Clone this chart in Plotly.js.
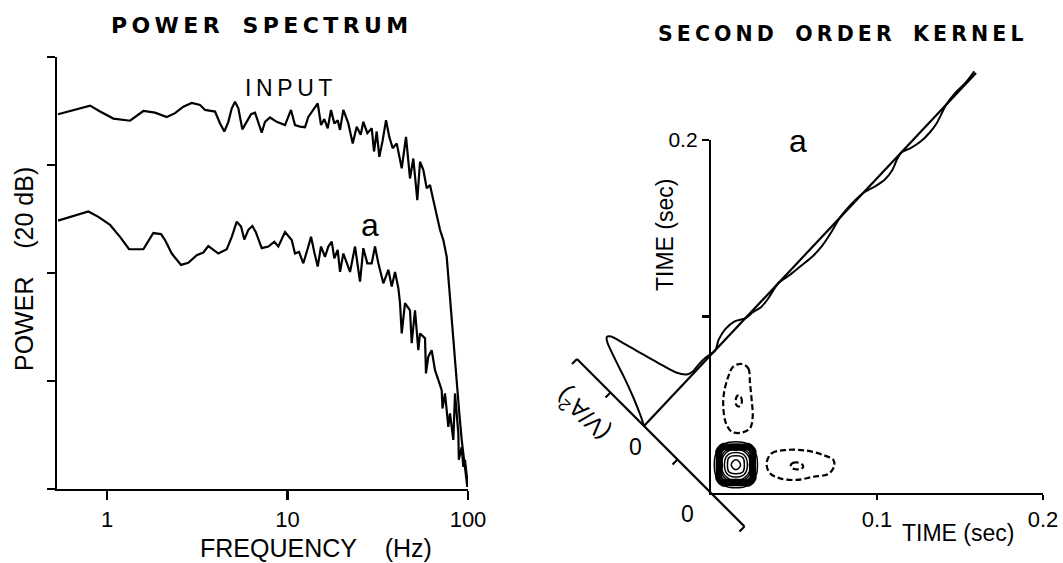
<!DOCTYPE html>
<html><head><meta charset="utf-8">
<script src="https://cdn.plot.ly/plotly-3.0.1.min.js"></script>
<style>html,body{margin:0;padding:0;background:#fff}#chart{width:1063px;height:563px}</style>
</head><body><div id="chart"></div>
<script>
// ---------- LEFT PANEL: power spectrum ----------
const freqTickVals = [1, 10, 100];
const freqTickText = ['1', '10', '100'];
const powerTickVals = [0, 20, 40, 60, 80];   // 20 dB per division

const inputFreq = [0.535, 0.665, 0.805, 0.915, 1.084, 1.341, 1.589, 1.845, 2.142, 2.381, 2.647, 2.946, 3.275, 3.491, 3.966, 4.227, 4.466, 4.699, 4.909, 5.119, 5.339, 5.619, 5.943, 6.28, 6.604, 6.888, 7.194, 7.503, 7.998, 8.713, 9.685, 10.45, 11.0, 11.73, 12.5, 13.04, 13.9, 14.7, 15.33, 15.99, 16.7, 17.42, 18.17, 18.97, 19.54, 20.38, 21.72, 22.97, 24.17, 25.44, 26.3, 27.68, 29.28, 30.15, 31.2, 32.26, 33.69, 35.14, 36.64, 38.26, 40.27, 42.93, 45.35, 47.72, 49.77, 52.37, 54.21, 56.54, 59.04, 61.58, 64.23, 67.6, 69.97, 73.0, 76.22, 77.8, 78.79, 81.24, 83.66, 86.59, 89.51, 92.29, 96.25, 99.1];
const inputPower = [69.4, 70.2, 71.0, 69.9, 68.6, 68.2, 70.0, 69.7, 68.9, 69.6, 70.8, 71.5, 71.1, 70.2, 69.9, 67.7, 66.2, 68.0, 70.5, 71.7, 70.5, 66.6, 68.0, 69.4, 69.7, 68.0, 66.0, 68.0, 68.8, 68.0, 67.4, 70.2, 67.4, 67.1, 67.0, 68.9, 70.2, 71.4, 67.4, 68.5, 66.8, 70.2, 67.7, 68.3, 66.5, 70.2, 67.7, 64.0, 67.1, 65.6, 68.0, 65.9, 66.8, 62.5, 66.2, 61.5, 64.6, 68.3, 65.2, 63.1, 64.0, 59.4, 65.2, 57.5, 61.2, 53.5, 60.6, 59.1, 55.7, 56.3, 53.5, 50.4, 48.0, 46.1, 43.0, 39.3, 36.9, 32.5, 26.4, 20.2, 14.0, 9.1, 4.1, 0.4];

const aFreq = [0.535, 0.665, 0.788, 0.895, 1.039, 1.18, 1.324, 1.589, 1.693, 1.805, 1.992, 2.096, 2.283, 2.57, 2.821, 3.14, 3.416, 3.64, 4.137, 4.605, 4.909, 5.232, 5.526, 5.763, 6.066, 6.383, 6.666, 7.194, 7.83, 8.452, 8.892, 9.685, 10.55, 11.0, 11.58, 12.23, 13.04, 13.5, 14.08, 14.7, 15.33, 16.13, 16.83, 17.58, 18.17, 18.97, 19.54, 20.38, 22.2, 23.66, 25.22, 26.3, 27.68, 29.28, 30.53, 31.86, 33.95, 36.19, 37.79, 39.42, 41.12, 42.02, 42.93, 44.77, 47.72, 48.76, 50.86, 53.06, 54.21, 57.8, 58.5, 60.26, 62.93, 65.64, 68.47, 71.49, 72.2, 74.58, 77.8, 79.5, 82.92, 84.72, 88.4, 88.96, 92.29, 94.19, 96.25, 98.35, 100];
const aPower = [49.7, 50.6, 51.4, 50.4, 48.9, 46.7, 44.4, 44.4, 45.8, 47.4, 47.2, 46.1, 43.6, 41.5, 41.9, 43.3, 43.8, 45.0, 43.6, 44.4, 46.7, 49.5, 48.6, 46.2, 48.0, 48.7, 47.6, 44.6, 44.9, 45.8, 44.9, 47.6, 46.1, 43.6, 43.9, 41.8, 44.9, 46.7, 43.8, 41.2, 44.9, 43.0, 44.9, 45.8, 42.7, 44.3, 40.2, 43.6, 40.2, 44.9, 38.4, 44.6, 41.8, 41.8, 44.9, 41.8, 38.1, 40.6, 37.5, 40.2, 37.2, 34.4, 28.8, 34.4, 33.1, 27.0, 33.1, 25.7, 28.8, 27.9, 21.4, 24.5, 25.7, 22.0, 20.2, 18.3, 14.9, 17.7, 11.5, 14.0, 9.1, 17.7, 10.3, 5.4, 7.8, 4.1, 5.4, 1.7, 0.4];

// ---------- RIGHT PANEL: second order kernel ----------
const timeTickVals = [0.1, 0.2];
const timeTickTextX = ['0.1', '0.2'];
const timeTickTextY = ['', '0.2'];

// diagonal cut of the kernel, K(t,t), in units along the oblique (V/A^2) axis
const diagTime = [0, 0.002, 0.005, 0.008, 0.0105, 0.0125, 0.014, 0.0152, 0.0165, 0.018, 0.020, 0.0225, 0.025, 0.0275, 0.030, 0.034, 0.038, 0.043, 0.047, 0.052, 0.057, 0.061, 0.065, 0.069, 0.073, 0.077, 0.081, 0.087, 0.093, 0.099, 0.105, 0.111, 0.118, 0.125, 0.132, 0.137, 0.142, 0.147, 0.152, 0.155, 0.159, 0.164, 0.169, 0.174, 0.178, 0.182, 0.188, 0.194, 0.200];
const diagAmp = [0, 0.2, 0.55, 0.95, 1.33, 1.62, 1.80, 1.86, 1.80, 1.55, 1.17, 0.70, 0.28, 0.09, 0.04, 0.05, 0.04, 0.0, 0.10, 0.15, 0.12, 0.0, -0.03, -0.08, -0.07, -0.03, 0.0, -0.06, -0.10, -0.14, -0.13, -0.08, 0.0, 0.02, 0.0, -0.08, -0.14, -0.12, -0.03, 0.0, -0.08, -0.14, -0.15, -0.12, -0.06, 0.0, 0.03, 0.02, 0.05];
const ampTickVals = [-3, -2, -1, 0, 1, 2];   // oblique amplitude axis; origin of time plane sits at -2

// positive peak (solid contours): kernel values on a grid
const peakT1 = [-0.001, 0.003, 0.007, 0.011, 0.015, 0.019, 0.023, 0.027, 0.031];
const peakT2 = [0.000, 0.004, 0.008, 0.012, 0.016, 0.020, 0.024, 0.028, 0.032];
const peakZ = [
  [0, 0,   0,   0,   0,   0,   0,   0,   0],
  [0, 0.3, 0.8, 1.1, 1.2, 1.1, 0.8, 0.3, 0],
  [0, 0.8, 5.8, 7.2, 7.5, 7.2, 5.8, 0.8, 0],
  [0, 1.1, 7.2, 8.7, 9.0, 8.7, 7.2, 1.1, 0],
  [0, 1.2, 7.5, 9.0, 10,  9.0, 7.5, 1.2, 0],
  [0, 1.1, 7.2, 8.7, 9.0, 8.7, 7.2, 1.1, 0],
  [0, 0.8, 5.8, 7.2, 7.5, 7.2, 5.8, 0.8, 0],
  [0, 0.3, 0.8, 1.1, 1.2, 1.1, 0.8, 0.3, 0],
  [0, 0,   0,   0,   0,   0,   0,   0,   0]
];
const peakLevels = {start: 0.9, end: 9.3, size: 0.7};

// negative lobes (dashed contours), traced in (t1, t2) seconds
const lobeVOuterT1 = [0.0185, 0.0225, 0.0235, 0.0245, 0.0251, 0.0235, 0.0185, 0.0125, 0.0090, 0.0074, 0.0078, 0.0104, 0.0134, 0.0185];
const lobeVOuterT2 = [0.0731, 0.0706, 0.0621, 0.0527, 0.0432, 0.0367, 0.0342, 0.0347, 0.0395, 0.0489, 0.0565, 0.0659, 0.0716, 0.0731];
const lobeVInnerT1 = [0.0167, 0.0182, 0.0186, 0.0180, 0.0165, 0.0152, 0.0149, 0.0154, 0.0167];
const lobeVInnerT2 = [0.0555, 0.0540, 0.0520, 0.0498, 0.0490, 0.0500, 0.0522, 0.0545, 0.0555];
const lobeHOuterT1 = [0.0335, 0.0365, 0.0456, 0.0576, 0.0677, 0.0737, 0.0741, 0.0707, 0.0616, 0.0516, 0.0416, 0.0355, 0.0335];
const lobeHOuterT2 = [0.0168, 0.0225, 0.0244, 0.0240, 0.0215, 0.0187, 0.0149, 0.0108, 0.0092, 0.0074, 0.0083, 0.0112, 0.0168];
const lobeHInnerT1 = [0.0480, 0.0492, 0.0518, 0.0545, 0.0556, 0.0540, 0.0515, 0.0490, 0.0480];
const lobeHInnerT2 = [0.0155, 0.0170, 0.0173, 0.0165, 0.0150, 0.0136, 0.0134, 0.0140, 0.0155];

// ---------- layout geometry ----------
const W = 1063, H = 563;
const fx = v => v / W, fy = v => 1 - v / H;
const PXT1 = 1660, PXT2 = 1765;           // pixels per second on the time axes
const ORG = [711, 493];                    // pixel position of time origin
// oblique (V/A^2) axis direction per amplitude unit, expressed in seconds
const OX = -33.5 / PXT1, OY = 33.5 / PXT2;
const SX = -5 / PXT1, SY = -5 / PXT2;      // tick stub on oblique axis
const AMP_AT_ORIGIN = -2;
function proj(t1, t2, A) {
  const w = A - AMP_AT_ORIGIN;
  return [t1 + w * OX, t2 + w * OY];
}

const BLK = '#000';
const traces = [];
traces.push({x: inputFreq, y: inputPower, type: 'scatter', mode: 'lines',
  line: {color: BLK, width: 2.2}, xaxis: 'x', yaxis: 'y', hoverinfo: 'skip'});
traces.push({x: aFreq, y: aPower, type: 'scatter', mode: 'lines',
  line: {color: BLK, width: 2.2}, xaxis: 'x', yaxis: 'y', hoverinfo: 'skip'});

// positive peak contours
traces.push({type: 'contour', x: peakT1, y: peakT2, z: peakZ, xaxis: 'x2', yaxis: 'y2',
  autocontour: false, contours: {coloring: 'lines', start: peakLevels.start, end: peakLevels.end, size: peakLevels.size, showlabels: false},
  line: {width: 1.5, smoothing: 1.3}, colorscale: [[0, BLK], [1, BLK]], showscale: false, hoverinfo: 'skip'});
// negative dashed lobes
[[lobeVOuterT1, lobeVOuterT2], [lobeVInnerT1, lobeVInnerT2], [lobeHOuterT1, lobeHOuterT2], [lobeHInnerT1, lobeHInnerT2]].forEach(r => {
  traces.push({x: r[0], y: r[1], type: 'scatter', mode: 'lines', xaxis: 'x2', yaxis: 'y2',
    line: {color: BLK, width: 2.2, dash: '6px,3px', shape: 'spline', smoothing: 1}, hoverinfo: 'skip'});
});

// oblique amplitude axis with stubs
const axA = ampTickVals[0], axB = ampTickVals[ampTickVals.length - 1];
const pA = proj(0, 0, axA), pB = proj(0, 0, axB);
const obX = [pA[0], pB[0], null], obY = [pA[1], pB[1], null];
ampTickVals.forEach(a => {
  if (a === 0 || a === AMP_AT_ORIGIN) return;
  const p = proj(0, 0, a);
  obX.push(p[0], p[0] + SX, null); obY.push(p[1], p[1] + SY, null);
});
traces.push({x: obX, y: obY, type: 'scatter', mode: 'lines', xaxis: 'x3', yaxis: 'y3',
  line: {color: BLK, width: 2.2}, hoverinfo: 'skip'});
// diagonal baseline (t1 = t2, amplitude 0)
const b0 = proj(diagTime[0], diagTime[0], 0), b1 = proj(diagTime[diagTime.length - 1], diagTime[diagTime.length - 1], 0);
traces.push({x: [b0[0], b1[0]], y: [b0[1], b1[1]], type: 'scatter', mode: 'lines', xaxis: 'x3', yaxis: 'y3',
  line: {color: BLK, width: 2.2}, hoverinfo: 'skip'});
// kernel diagonal
const kx = [], ky = [];
diagTime.forEach((t, i) => { const p = proj(t, t, diagAmp[i]); kx.push(p[0]); ky.push(p[1]); });
traces.push({x: kx, y: ky, type: 'scatter', mode: 'lines', xaxis: 'x3', yaxis: 'y3',
  line: {color: BLK, width: 2, shape: 'spline', smoothing: 0.8}, hoverinfo: 'skip'});

const F = 'Liberation Sans';
function ann(text, x, y, size, extra) {
  return Object.assign({text: text, x: fx(x), y: fy(y), xref: 'paper', yref: 'paper', showarrow: false,
    xanchor: 'center', yanchor: 'middle', font: {family: F, size: size, color: BLK}}, extra || {});
}
const nb = '\u00a0', th = '\u2009';
const spaced = s => s.split(' ').map(w => w.split('').join(th)).join(nb + nb + nb);
const annotations = [
  ann('<b>' + spaced('POWER SPECTRUM') + '</b>', 259, 26, 22, {font: {family: 'DejaVu Sans', size: 22, color: BLK}}),
  ann('<b>' + spaced('SECOND ORDER KERNEL') + '</b>', 840, 34, 20.5, {font: {family: 'DejaVu Sans', size: 20.5, color: BLK}}),
  ann('I' + th + 'N' + th + 'P' + th + 'U' + th + 'T', 288, 88, 23),
  ann('a', 370, 225, 32),
  ann('a', 798, 141, 32),
  ann('POWER' + nb + nb + nb + nb + '(20' + nb + 'dB)', 24, 269, 25, {textangle: -90}),
  ann('FREQUENCY' + nb + nb + nb + nb + '(Hz)', 316, 548, 25),
  ann('TIME (sec)', 665, 235, 23, {textangle: -90}),
  ann('TIME (sec)', 958, 533, 23),
  ann('0', 687, 514, 23),
  ann('0', 635, 447, 23),
  ann('(V/A<sup>2</sup>)', 582, 415, 24, {textangle: -135})
];

const layout = {
  width: W, height: H, margin: {l: 0, r: 0, t: 0, b: 0},
  paper_bgcolor: '#fff', plot_bgcolor: 'rgba(0,0,0,0)', showlegend: false,
  xaxis: {domain: [fx(57), fx(468)], type: 'log', range: [Math.log10(0.528), 2], anchor: 'y',
    showline: true, linewidth: 2.2, linecolor: BLK, ticks: 'outside', ticklen: 9, tickwidth: 2.2, tickcolor: BLK,
    tickvals: freqTickVals, ticktext: freqTickText, tickfont: {family: F, size: 22, color: BLK},
    showgrid: false, zeroline: false, fixedrange: true},
  yaxis: {domain: [fy(489), fy(57)], range: [0, 80], anchor: 'x',
    showline: true, linewidth: 2.2, linecolor: BLK, ticks: 'outside', ticklen: 8, tickwidth: 2.2, tickcolor: BLK,
    tickvals: powerTickVals, showticklabels: false, showgrid: false, zeroline: false, fixedrange: true},
  xaxis2: {domain: [fx(711), fx(1043)], range: [0, 0.2], anchor: 'y2',
    showline: true, linewidth: 2.2, linecolor: BLK, ticks: 'outside', ticklen: 5, tickwidth: 2.2, tickcolor: BLK,
    tickvals: timeTickVals, ticktext: timeTickTextX, tickfont: {family: F, size: 22, color: BLK},
    showgrid: false, zeroline: false, fixedrange: true},
  yaxis2: {domain: [fy(493), fy(140)], range: [0, 0.2], anchor: 'x2',
    showline: true, linewidth: 2.2, linecolor: BLK, ticks: 'outside', ticklen: 7, tickwidth: 2.2, tickcolor: BLK,
    tickvals: timeTickVals, ticktext: timeTickTextY, tickfont: {family: F, size: 21, color: BLK},
    showgrid: false, zeroline: false, fixedrange: true},
  xaxis3: {domain: [fx(560), 1], range: [(560 - ORG[0]) / PXT1, (W - ORG[0]) / PXT1], anchor: 'y3', visible: false, fixedrange: true},
  yaxis3: {domain: [0, fy(60)], range: [(ORG[1] - H) / PXT2, (ORG[1] - 60) / PXT2], anchor: 'x3', visible: false, fixedrange: true},
  annotations: annotations
};
Plotly.newPlot('chart', traces, layout, {staticPlot: true, displayModeBar: false});
</script>
</body></html>
